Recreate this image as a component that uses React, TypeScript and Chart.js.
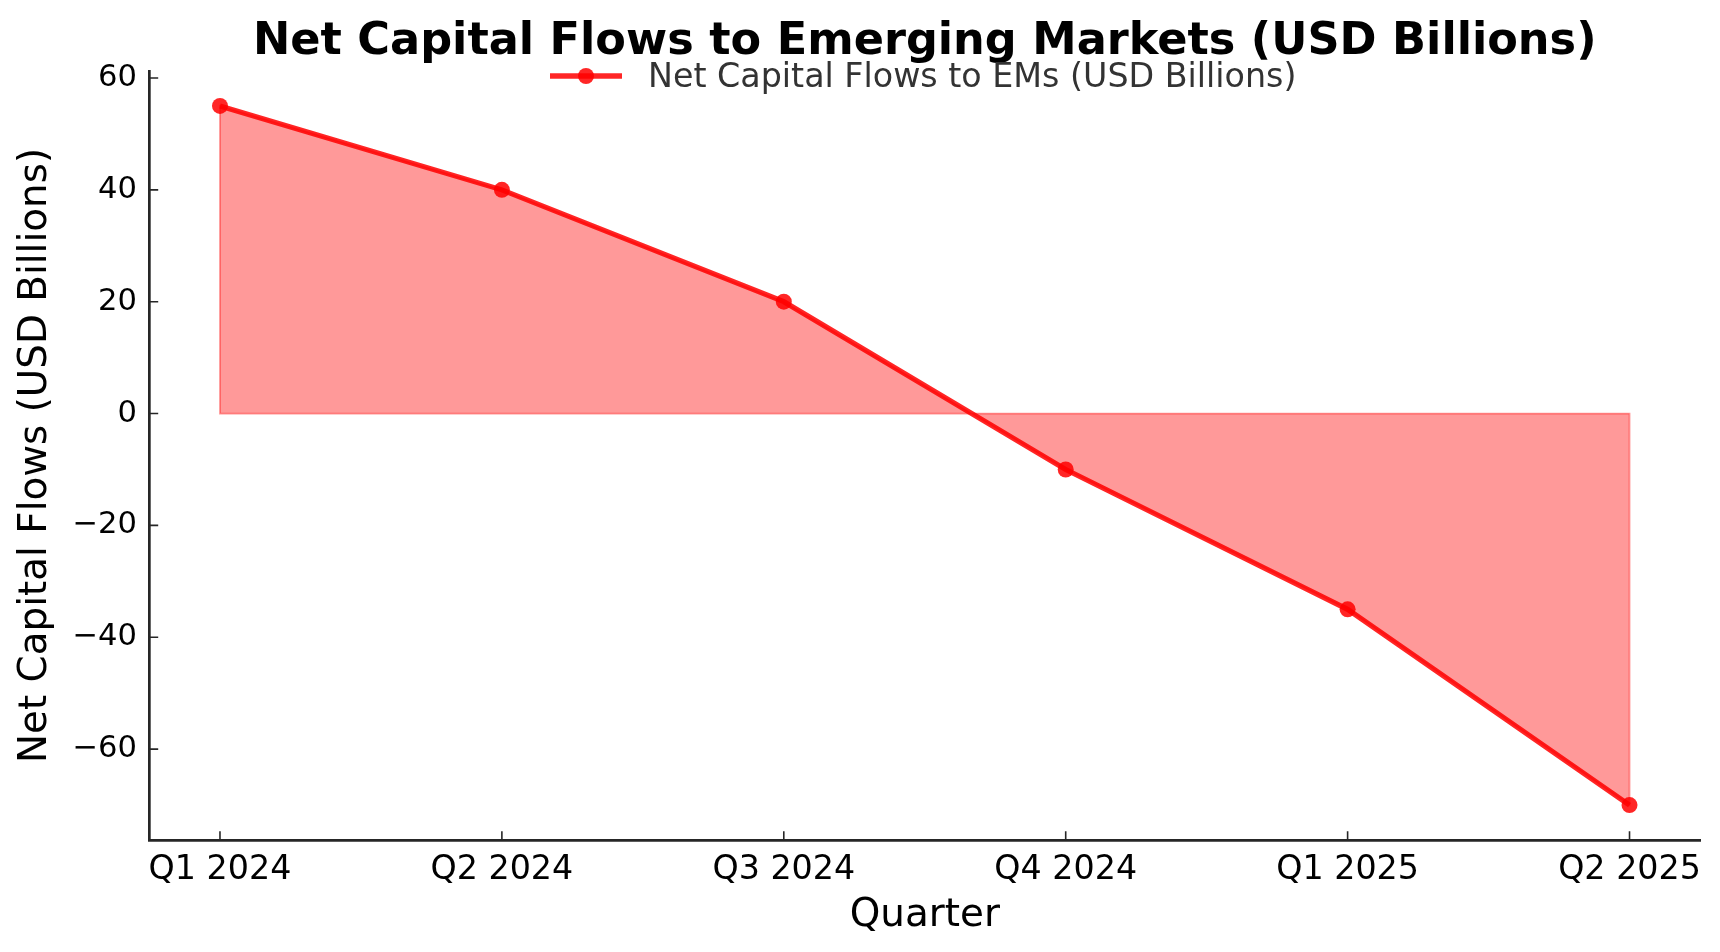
import React, { useEffect, useRef } from "react";
import { Chart, registerables } from "chart.js";

Chart.register(...registerables);

const quarters = ["Q1 2024", "Q2 2024", "Q3 2024", "Q4 2024", "Q1 2025", "Q2 2025"];
const flows = [55, 40, 20, -10, -35, -70];
const yTickValues = [-60, -40, -20, 0, 20, 40, 60];
const titleText = "Net Capital Flows to Emerging Markets (USD Billions)";
const seriesLabel = "Net Capital Flows to EMs (USD Billions)";
const xTitle = "Quarter";
const yTitle = "Net Capital Flows (USD Billions)";

const FONT = "'DejaVu Sans', 'Liberation Sans', sans-serif";
const LINE_COLOR = "rgba(255,0,0,0.85)";
const FILL_COLOR = "rgba(255,0,0,0.4)";
const AXIS_COLOR = "#262626";

const fmt = (v: number) => (v < 0 ? "\u2212" + Math.abs(v) : String(v));

export default function App() {
  const ref = useRef<HTMLCanvasElement | null>(null);

  useEffect(() => {
    document.body.style.margin = "0";
    const canvas = ref.current;
    if (!canvas) return;

    const decor = {
      id: "decor",
      beforeDatasetDraw(chart: any) {
        const { ctx } = chart;
        const xs = chart.scales.x;
        const ys = chart.scales.y;
        const y0 = ys.getPixelForValue(0);
        ctx.save();
        ctx.beginPath();
        ctx.moveTo(xs.getPixelForValue(0), y0);
        flows.forEach((v, i) => ctx.lineTo(xs.getPixelForValue(i), ys.getPixelForValue(v)));
        ctx.lineTo(xs.getPixelForValue(flows.length - 1), y0);
        ctx.closePath();
        ctx.strokeStyle = FILL_COLOR;
        ctx.lineWidth = 1.8;
        ctx.stroke();
        ctx.restore();
      },
      afterDraw(chart: any) {
        const { ctx, chartArea } = chart;
        const xs = chart.scales.x;
        const ys = chart.scales.y;
        ctx.save();
        // inward ticks
        ctx.strokeStyle = AXIS_COLOR;
        ctx.lineWidth = 1.6;
        ctx.beginPath();
        yTickValues.forEach((v) => {
          const py = ys.getPixelForValue(v);
          ctx.moveTo(chartArea.left, py);
          ctx.lineTo(chartArea.left + 8.7, py);
        });
        quarters.forEach((_, i) => {
          const px = xs.getPixelForValue(i);
          ctx.moveTo(px, chartArea.bottom);
          ctx.lineTo(px, chartArea.bottom - 8.7);
        });
        ctx.stroke();

        // title
        const cx = (chartArea.left + chartArea.right) / 2;
        ctx.fillStyle = "#000";
        ctx.font = `bold 44.6px ${FONT}`;
        ctx.textAlign = "center";
        ctx.textBaseline = "alphabetic";
        ctx.fillText(titleText, cx, 54);

        // legend
        const ly = 76;
        ctx.strokeStyle = LINE_COLOR;
        ctx.lineWidth = 5.5;
        ctx.beginPath();
        ctx.moveTo(550, ly);
        ctx.lineTo(622, ly);
        ctx.stroke();
        ctx.fillStyle = LINE_COLOR;
        ctx.beginPath();
        ctx.arc(586, ly, 8, 0, Math.PI * 2);
        ctx.fill();
        ctx.fillStyle = "#333333";
        ctx.font = `33.3px ${FONT}`;
        ctx.textAlign = "left";
        ctx.fillText(seriesLabel, 648, 86.7);
        ctx.restore();
      },
    };

    const chart = new Chart(canvas, {
      type: "line",
      data: {
        datasets: [
          {
            label: seriesLabel,
            data: flows.map((v, i) => ({ x: i, y: v })),
            borderColor: LINE_COLOR,
            backgroundColor: FILL_COLOR,
            pointBackgroundColor: LINE_COLOR,
            pointBorderColor: LINE_COLOR,
            pointBorderWidth: 0,
            pointRadius: 8,
            borderWidth: 5.2,
            fill: "origin",
            tension: 0,
          },
        ],
      },
      options: {
        animation: false,
        responsive: false,
        devicePixelRatio: 1,
        layout: { padding: { top: 71, right: 20, left: 0, bottom: 0 } },
        plugins: {
          legend: { display: false },
          title: { display: false },
          tooltip: { enabled: false },
        },
        scales: {
          x: {
            type: "linear",
            min: -0.25,
            max: 5.25,
            grid: { display: false, drawTicks: false },
            border: { display: true, color: AXIS_COLOR, width: 2.7 },
            afterBuildTicks: (scale: any) => {
              scale.ticks = quarters.map((_, i) => ({ value: i }));
            },
            afterFit: (scale: any) => {
              scale.height = 112;
            },
            ticks: {
              autoSkip: false,
              maxRotation: 0,
              padding: 10,
              color: "#000",
              font: { family: FONT, size: 33.3 },
              callback: (v: any) => quarters[Number(v)] ?? "",
            },
            title: {
              display: true,
              text: xTitle,
              color: "#000",
              font: { family: FONT, size: 38.9 },
              padding: { top: 0, bottom: 13 },
            },
          },
          y: {
            type: "linear",
            min: -76.25,
            max: 61.25,
            grid: { display: false, drawTicks: false },
            border: { display: true, color: AXIS_COLOR, width: 2.7 },
            afterBuildTicks: (scale: any) => {
              scale.ticks = yTickValues.map((v) => ({ value: v }));
            },
            afterFit: (scale: any) => {
              scale.width = 149.5;
            },
            ticks: {
              padding: 12.5,
              color: "#000",
              font: { family: FONT, size: 30.6 },
              callback: (v: any) => fmt(Number(v)),
            },
            title: {
              display: true,
              text: yTitle,
              color: "#000",
              font: { family: FONT, size: 38.9 },
              padding: { top: 12.7, bottom: 0 },
            },
          },
        },
      },
      plugins: [decor],
    } as any);

    return () => chart.destroy();
  }, []);

  return (
    <div style={{ width: 1720, height: 952, background: "#fff" }}>
      <canvas ref={ref} width={1720} height={952} style={{ display: "block" }} />
    </div>
  );
}
